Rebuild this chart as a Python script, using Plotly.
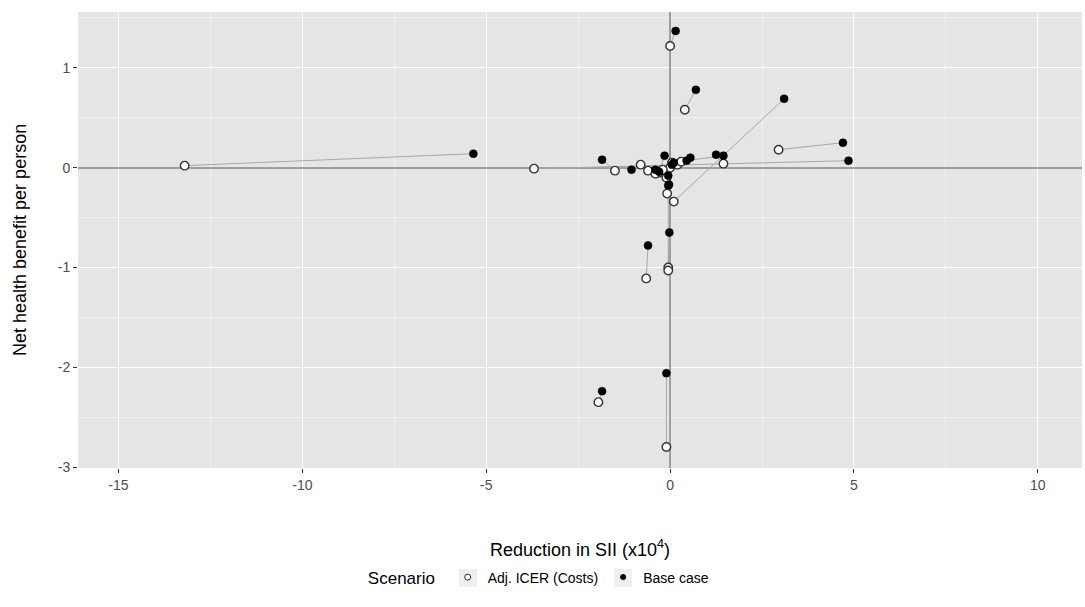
import plotly.graph_objects as go

# Reduction in SII (x10^4) and net health benefit per person, one pair per intervention
adj_x = [-13.2, -3.7, 2.95, 0.1, 0.0, 0.4, -1.5, -0.65, -1.95, -0.1, -0.05, -0.05,
         1.45, -0.8, -0.6, -0.3, 0.05, 0.2, -0.08, 0.3, -0.4, 0.0, -0.1, -0.2]
adj_y = [0.02, -0.01, 0.18, -0.34, 1.22, 0.58, -0.03, -1.11, -2.35, -2.8, -1.0, -1.03,
         0.04, 0.03, -0.03, -0.05, 0.05, 0.03, -0.26, 0.06, -0.06, 0.0, -0.1, -0.02]
base_x = [-5.35, 4.85, 4.7, 3.1, 0.15, 0.7, -1.85, -0.6, -1.85, -0.1, -0.02, -0.05,
          1.25, -1.05, -0.4, -0.15, 1.45, 0.55, -0.03, 0.45, -0.3, 0.05, -0.05, 0.1]
base_y = [0.14, 0.07, 0.25, 0.69, 1.37, 0.78, 0.08, -0.78, -2.24, -2.06, -0.65, -0.18,
          0.13, -0.02, -0.02, 0.12, 0.12, 0.1, -0.17, 0.07, -0.04, 0.03, -0.08, 0.05]

x_ticks = [-15, -10, -5, 0, 5, 10]
y_ticks = [-3, -2, -1, 0, 1]
scenarios = ["Adj. ICER (Costs)", "Base case"]

FONT = "Liberation Sans, Arial, sans-serif"

# plot area in pixels, used to place the legend key backgrounds
PLOT_L, PLOT_W, PLOT_B, PLOT_H = 78, 1004, 468, 456
LEGEND_X = 0.46
LEGEND_Y_PX = 578
KEY_CENTERS_PX = [468, 623]

# connecting segments between the two scenarios of each intervention
seg_x, seg_y = [], []
for ax_, ay_, bx_, by_ in zip(adj_x, adj_y, base_x, base_y):
    seg_x += [ax_, bx_, None]
    seg_y += [ay_, by_, None]

open_marker = dict(symbol="circle", color="white", line=dict(color="#333333", width=1.4))
fill_marker = dict(symbol="circle", color="black", line=dict(color="black", width=0.5))

fig = go.Figure()
fig.add_trace(go.Scatter(x=seg_x, y=seg_y, mode="lines",
                         line=dict(color="#a6a6a6", width=1),
                         showlegend=False, hoverinfo="skip"))
fig.add_trace(go.Scatter(x=adj_x, y=adj_y, mode="markers", name=scenarios[0],
                         marker=dict(size=8.5, **open_marker), showlegend=False))
fig.add_trace(go.Scatter(x=base_x, y=base_y, mode="markers", name=scenarios[1],
                         marker=dict(size=8, **fill_marker), showlegend=False))
# legend keys use smaller glyphs
fig.add_trace(go.Scatter(x=[None], y=[None], mode="markers", name=scenarios[0],
                         marker=dict(symbol="circle", size=6, color="white",
                                     line=dict(color="#333333", width=1))))
fig.add_trace(go.Scatter(x=[None], y=[None], mode="markers", name=scenarios[1],
                         marker=dict(size=5.5, **fill_marker)))

# light grey background squares behind the legend keys
key_shapes = []
for cx in KEY_CENTERS_PX:
    key_shapes.append(dict(
        type="rect", xref="paper", yref="paper", layer="below",
        x0=(cx - 9 - PLOT_L) / PLOT_W, x1=(cx + 9 - PLOT_L) / PLOT_W,
        y0=(PLOT_B - (LEGEND_Y_PX + 9)) / PLOT_H, y1=(PLOT_B - (LEGEND_Y_PX - 9)) / PLOT_H,
        fillcolor="#efefef", line=dict(width=0)))

axis_common = dict(
    showgrid=True, gridcolor="white", gridwidth=1.1,
    zeroline=True, zerolinecolor="#9e9e9e", zerolinewidth=1.6,
    ticks="outside", ticklen=4, tickwidth=1, tickcolor="#333333",
    tickfont=dict(family=FONT, size=14, color="#4d4d4d"),
    showline=False,
)

fig.update_layout(
    width=1085, height=607,
    margin=dict(l=78, r=3, t=12, b=139, autoexpand=False),
    paper_bgcolor="white", plot_bgcolor="#e5e5e5",
    font=dict(family=FONT, color="black"),
    xaxis=dict(range=[-16.1, 11.2], tickvals=x_ticks,
               ticktext=[str(v) for v in x_ticks],
               minor=dict(dtick=2.5, tick0=0, showgrid=True, gridcolor="#f0f0f0",
                          gridwidth=0.6, ticks=""),
               **axis_common),
    yaxis=dict(range=[-3.01, 1.56], tickvals=y_ticks,
               ticktext=[str(v) for v in y_ticks],
               minor=dict(dtick=0.5, tick0=0, showgrid=True, gridcolor="#f0f0f0",
                          gridwidth=0.6, ticks=""),
               **axis_common),
    shapes=key_shapes,
    annotations=[
        dict(text="Reduction in SII (x10<sup>4</sup>)", xref="paper", yref="paper",
             x=0.5, y=0, xanchor="center", yanchor="middle", yshift=-80,
             showarrow=False, font=dict(family=FONT, size=18, color="black")),
        dict(text="Net health benefit per person", xref="paper", yref="paper",
             x=0, y=0.5, xanchor="center", yanchor="middle", xshift=-58,
             textangle=-90, showarrow=False,
             font=dict(family=FONT, size=18, color="black")),
    ],
    legend=dict(orientation="h", x=LEGEND_X, xanchor="center",
                y=(PLOT_B - LEGEND_Y_PX) / PLOT_H, yanchor="middle",
                bgcolor="rgba(0,0,0,0)",
                title=dict(text="Scenario ", side="left",
                           font=dict(family=FONT, size=17, color="black")),
                font=dict(family=FONT, size=14, color="black"),
                itemsizing="trace", itemwidth=30),
)

fig.write_html("out.html")
